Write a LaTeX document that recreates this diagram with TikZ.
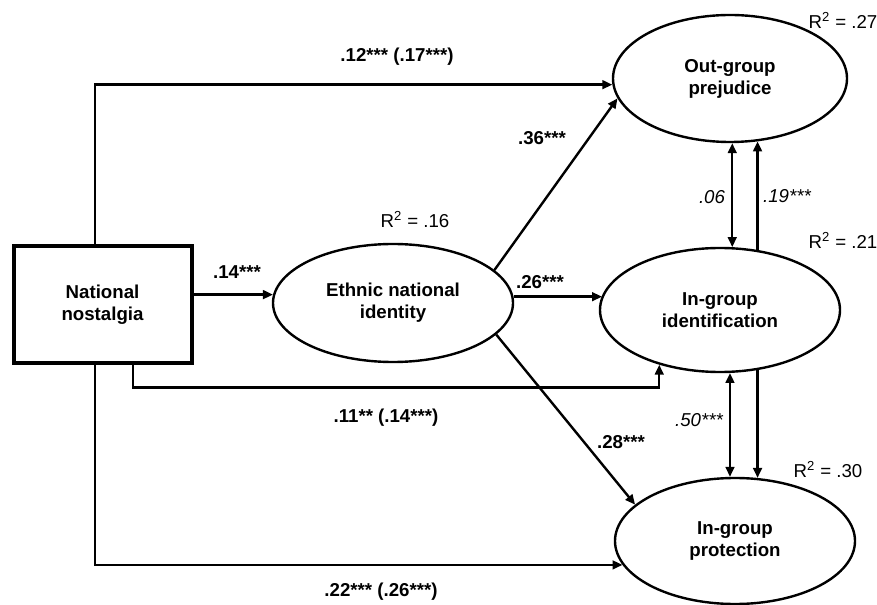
\documentclass[tikz,border=0pt]{standalone}
\usepackage{fontspec}
\setmainfont{Liberation Sans}
\usetikzlibrary{shapes.geometric,arrows.meta}
\newcommand{\diagfont}{\fontsize{14}{16.5}\selectfont}
\tikzset{
	latent/.style={draw,ellipse,line width=1.8pt,inner sep=0pt,align=center,font=\diagfont\bfseries},
	manifest/.style={draw,rectangle,line width=3pt,inner sep=0pt,align=center,font=\diagfont\bfseries},
	link/.style={line width=1.8pt},
	coef/.style={font=\diagfont\bfseries},
	cov/.style={font=\diagfont\itshape},
}
\newcommand{\rsq}[1]{R\textsuperscript{2} = #1}
\begin{document}
\begin{tikzpicture}[x=0.75pt,y=-0.75pt,>={Triangle[length=7.5pt,width=6.5pt]},font=\diagfont]
	\useasboundingbox (0,0) rectangle (877,605);
	\node[manifest,minimum width=133.5pt,minimum height=87.75pt] (nn) at (102.5,305) {National\\nostalgia};
	\node[latent,minimum width=180pt,minimum height=88.5pt] (eth) at (393,303) {Ethnic national\\identity};
	\node[latent,minimum width=175.5pt,minimum height=95.25pt] (outg) at (730,78.5) {Out-group\\prejudice};
	\node[latent,minimum width=180pt,minimum height=93pt] (ingid) at (720,310) {In-group\\identification};
	\node[latent,minimum width=180pt,minimum height=94.5pt] (prot) at (735,541) {In-group\\protection};
	\draw[link,->] (nn.east |- eth.176) -- (eth.176);
	\draw[link,->] ([xshift=-5.6pt]nn.north) |- (outg.183);
	\draw[link,->] ([xshift=-5.6pt]nn.south) |- (prot.192);
	\draw[link,->] ([xshift=22.9pt]nn.south) -- ++(0,22) -| (ingid.222);
	\draw[link,->] (eth.18) -- (outg.190);
	\draw[link,->] (eth.3) -- (eth.3 -| ingid.173);
	\draw[link,->] (eth.-17) -- (prot.160);
	\draw[link,<->] (outg.-88) -- (outg.-88 |- ingid.79);
	\draw[link,->] (ingid.58) -- (ingid.58 |- outg.-66);
	\draw[link,<->] (ingid.-81) -- (ingid.-81 |- prot.95);
	\draw[link,->] (ingid.-58) -- (ingid.-58 |- prot.70);
	\node[coef] (c12) at (397,57) {.12*** (.17***)};
	\node[coef] (c14) at (237,272) {.14***};
	\node[coef] (c26) at (540,282) {.26***};
	\node[coef] (c36) at (542,138) {.36***};
	\node[coef] (c28) at (621,442) {.28***};
	\node[coef] (c11) at (386,418) {.11** (.14***)};
	\node[coef] (c22) at (381,592) {.22*** (.26***)};
	\node[cov] (v06) at (712,197) {.06};
	\node[cov] (v19) at (787,196) {.19***};
	\node[cov] (v50) at (699,420) {.50***};
	\node (reth) at (415,220) {\rsq{.16}};
	\node (routg) at (843,20) {\rsq{.27}};
	\node (ringid) at (843,240) {\rsq{.21}};
	\node (rprot) at (828,470) {\rsq{.30}};
\end{tikzpicture}
\end{document}
